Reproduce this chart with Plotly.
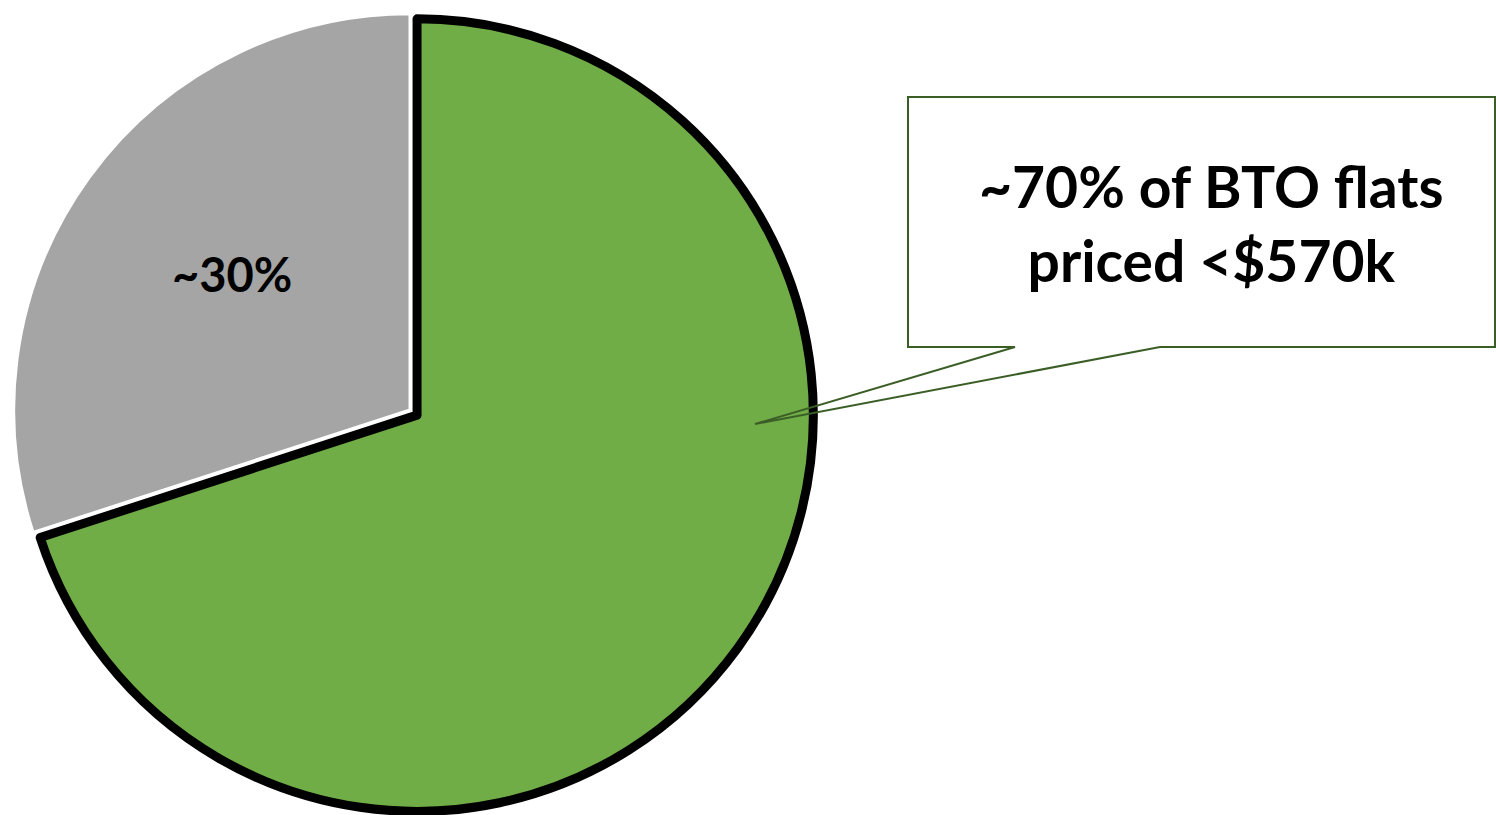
import plotly.graph_objects as go

W, H = 1496, 815

labels = ["Priced <$570k", "Priced ≥$570k"]
values = [70, 30]
colors = ["#70AD47", "#A5A5A5"]
callout_text = "~70% of BTO flats<br>priced <$570k"

def px(x):
    return x / W

def py(y):
    return 1 - y / H

fig = go.Figure()
fig.add_trace(go.Pie(
    labels=labels,
    values=values,
    sort=False,
    direction="clockwise",
    rotation=0,
    pull=[0.022, 0],
    textinfo="none",
    hoverinfo="label+percent",
    marker=dict(colors=colors, line=dict(color=["#000000", "#FFFFFF"], width=[9, 3])),
    domain=dict(x=[px(5), px(815)], y=[0, py(5)]),
    showlegend=False,
))

# callout box with pointer
pts = [(1015, 347), (908, 347), (908, 97), (1495, 97), (1495, 347), (1160, 347), (755, 424)]
path = "M " + " L ".join(f"{px(x):.5f},{py(y):.5f}" for x, y in pts) + " Z"
fig.add_shape(type="path", path=path, xref="paper", yref="paper",
              line=dict(color="#3B5E26", width=2), fillcolor="rgba(0,0,0,0)", layer="above")

fig.add_annotation(x=px(1211), y=py(223), xref="paper", yref="paper",
                   xanchor="center", yanchor="middle",
                   text=f"<b>{callout_text}</b>", showarrow=False, align="center",
                   font=dict(family="Lato", size=57, color="#000000"))

fig.add_annotation(x=px(232), y=py(274), xref="paper", yref="paper",
                   xanchor="center", yanchor="middle",
                   text=f"<b>~{values[1]}%</b>", showarrow=False,
                   font=dict(family="Lato", size=47, color="#000000"))

fig.update_layout(width=W, height=H, margin=dict(l=0, r=0, t=0, b=0),
                  paper_bgcolor="white", plot_bgcolor="white")

fig.write_html("out.html", config={"displayModeBar": False},
               post_script="document.body.style.margin='0';")
